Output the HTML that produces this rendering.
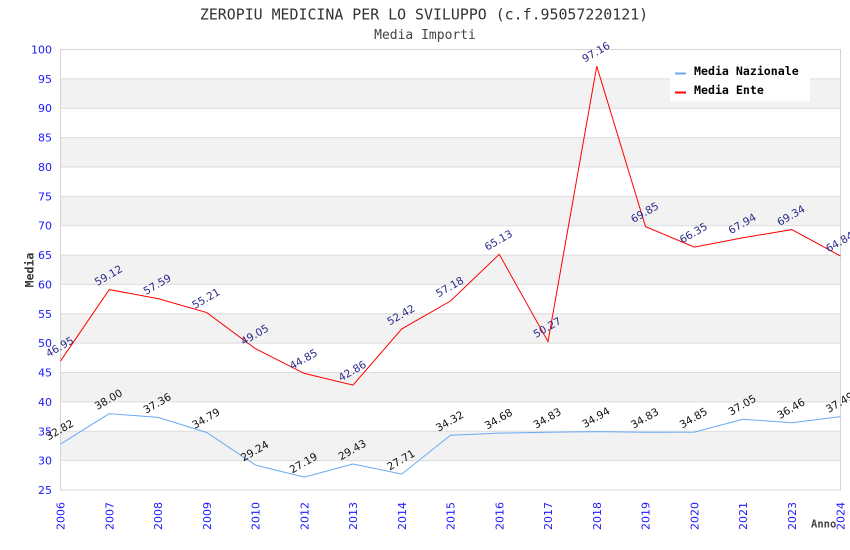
<!DOCTYPE html>
<html><head><meta charset="utf-8"><style>
html,body{margin:0;padding:0;background:#fff;}
svg{display:block;}
.yt{font-family:"DejaVu Sans","Liberation Sans",sans-serif;font-size:11px;fill:#1a1aff;text-anchor:end;}
.xt{font-family:"DejaVu Sans","Liberation Sans",sans-serif;font-size:11px;fill:#1a1aff;text-anchor:end;}
.lr{font-family:"DejaVu Sans","Liberation Sans",sans-serif;font-size:10.5px;fill:#2a2a8a;text-anchor:middle;}
.lb{font-family:"DejaVu Sans","Liberation Sans",sans-serif;font-size:10.5px;fill:#111;text-anchor:middle;}
</style></head><body>
<svg width="850" height="550" viewBox="0 0 850 550" xmlns="http://www.w3.org/2000/svg">
<rect x="0" y="0" width="850" height="550" fill="#fff"/>
<g fill="#f2f2f2">
<rect x="60.5" y="78.87" width="780" height="29.36"/>
<rect x="60.5" y="137.6" width="780" height="29.37"/>
<rect x="60.5" y="196.33" width="780" height="29.37"/>
<rect x="60.5" y="255.07" width="780" height="29.36"/>
<rect x="60.5" y="313.8" width="780" height="29.37"/>
<rect x="60.5" y="372.53" width="780" height="29.37"/>
<rect x="60.5" y="431.27" width="780" height="29.36"/>
</g>
<g stroke="#dcdcdc" stroke-width="1">
<line x1="60.5" x2="840.5" y1="78.87" y2="78.87"/>
<line x1="60.5" x2="840.5" y1="108.23" y2="108.23"/>
<line x1="60.5" x2="840.5" y1="137.6" y2="137.6"/>
<line x1="60.5" x2="840.5" y1="166.97" y2="166.97"/>
<line x1="60.5" x2="840.5" y1="196.33" y2="196.33"/>
<line x1="60.5" x2="840.5" y1="225.7" y2="225.7"/>
<line x1="60.5" x2="840.5" y1="255.07" y2="255.07"/>
<line x1="60.5" x2="840.5" y1="284.43" y2="284.43"/>
<line x1="60.5" x2="840.5" y1="313.8" y2="313.8"/>
<line x1="60.5" x2="840.5" y1="343.17" y2="343.17"/>
<line x1="60.5" x2="840.5" y1="372.53" y2="372.53"/>
<line x1="60.5" x2="840.5" y1="401.9" y2="401.9"/>
<line x1="60.5" x2="840.5" y1="431.27" y2="431.27"/>
<line x1="60.5" x2="840.5" y1="460.63" y2="460.63"/>
</g>
<rect x="60.5" y="49.5" width="780" height="440.5" fill="none" stroke="#d4d4d4" stroke-width="1"/>
<g class="yt">
<text x="52" y="53.5">100</text>
<text x="52" y="82.9">95</text>
<text x="52" y="112.2">90</text>
<text x="52" y="141.6">85</text>
<text x="52" y="171">80</text>
<text x="52" y="200.3">75</text>
<text x="52" y="229.7">70</text>
<text x="52" y="259.1">65</text>
<text x="52" y="288.4">60</text>
<text x="52" y="317.8">55</text>
<text x="52" y="347.2">50</text>
<text x="52" y="376.5">45</text>
<text x="52" y="405.9">40</text>
<text x="52" y="435.3">35</text>
<text x="52" y="464.6">30</text>
<text x="52" y="494">25</text>
</g>
<g class="xt">
<text transform="translate(64.5,502) rotate(-90)">2006</text>
<text transform="translate(113.25,502) rotate(-90)">2007</text>
<text transform="translate(162,502) rotate(-90)">2008</text>
<text transform="translate(210.75,502) rotate(-90)">2009</text>
<text transform="translate(259.5,502) rotate(-90)">2010</text>
<text transform="translate(308.25,502) rotate(-90)">2012</text>
<text transform="translate(357,502) rotate(-90)">2013</text>
<text transform="translate(405.75,502) rotate(-90)">2014</text>
<text transform="translate(454.5,502) rotate(-90)">2015</text>
<text transform="translate(503.25,502) rotate(-90)">2016</text>
<text transform="translate(552,502) rotate(-90)">2017</text>
<text transform="translate(600.75,502) rotate(-90)">2018</text>
<text transform="translate(649.5,502) rotate(-90)">2019</text>
<text transform="translate(698.25,502) rotate(-90)">2020</text>
<text transform="translate(747,502) rotate(-90)">2021</text>
<text transform="translate(795.75,502) rotate(-90)">2023</text>
<text transform="translate(844.5,502) rotate(-90)">2024</text>
</g>
<polyline fill="none" stroke="#6aaaf5" stroke-width="1" points="60.5,444.07 109.25,413.65 158,417.41 206.75,432.5 255.5,465.1 304.25,477.14 353,463.98 401.75,474.08 450.5,435.26 499.25,433.15 548,432.27 596.75,431.62 645.5,432.27 694.25,432.15 743,419.23 791.75,422.69 840.5,416.64"/>
<polyline fill="none" stroke="#ff0000" stroke-width="1" points="60.5,361.08 109.25,289.6 158,298.59 206.75,312.57 255.5,348.75 304.25,373.41 353,385.1 401.75,328.95 450.5,301 499.25,254.3 548,341.58 596.75,66.18 645.5,226.58 694.25,247.14 743,237.8 791.75,229.58 840.5,256.01"/>
<g class="lr">
<text transform="translate(61.5,350) rotate(-30)">46.95</text>
<text transform="translate(110.25,278.6) rotate(-30)">59.12</text>
<text transform="translate(159,287.6) rotate(-30)">57.59</text>
<text transform="translate(207.75,301.6) rotate(-30)">55.21</text>
<text transform="translate(256.5,337.8) rotate(-30)">49.05</text>
<text transform="translate(305.25,362.4) rotate(-30)">44.85</text>
<text transform="translate(354,374.1) rotate(-30)">42.86</text>
<text transform="translate(402.75,318) rotate(-30)">52.42</text>
<text transform="translate(451.5,290) rotate(-30)">57.18</text>
<text transform="translate(500.25,243.3) rotate(-30)">65.13</text>
<text transform="translate(549,330.6) rotate(-30)">50.27</text>
<text transform="translate(597.75,55.2) rotate(-30)">97.16</text>
<text transform="translate(646.5,215.6) rotate(-30)">69.85</text>
<text transform="translate(695.25,236.1) rotate(-30)">66.35</text>
<text transform="translate(744,226.8) rotate(-30)">67.94</text>
<text transform="translate(792.75,218.6) rotate(-30)">69.34</text>
<text transform="translate(841.5,245) rotate(-30)">64.84</text>
</g>
<g class="lb">
<text transform="translate(61.5,433) rotate(-30)">32.82</text>
<text transform="translate(110.25,402.6) rotate(-30)">38.00</text>
<text transform="translate(159,406.4) rotate(-30)">37.36</text>
<text transform="translate(207.75,421.5) rotate(-30)">34.79</text>
<text transform="translate(256.5,454.1) rotate(-30)">29.24</text>
<text transform="translate(305.25,466.1) rotate(-30)">27.19</text>
<text transform="translate(354,453) rotate(-30)">29.43</text>
<text transform="translate(402.75,463.1) rotate(-30)">27.71</text>
<text transform="translate(451.5,424.3) rotate(-30)">34.32</text>
<text transform="translate(500.25,422.1) rotate(-30)">34.68</text>
<text transform="translate(549,421.3) rotate(-30)">34.83</text>
<text transform="translate(597.75,420.6) rotate(-30)">34.94</text>
<text transform="translate(646.5,421.3) rotate(-30)">34.83</text>
<text transform="translate(695.25,421.1) rotate(-30)">34.85</text>
<text transform="translate(744,408.2) rotate(-30)">37.05</text>
<text transform="translate(792.75,411.7) rotate(-30)">36.46</text>
<text transform="translate(841.5,405.6) rotate(-30)">37.49</text>
</g>
<rect x="670" y="58" width="140" height="43.5" fill="#fff"/>
<rect x="675" y="72.5" width="11" height="2" fill="#6aaaf5"/>
<rect x="675" y="91.5" width="11" height="2" fill="#ff0000"/>
<g font-family="'DejaVu Sans Mono','Liberation Mono',monospace" font-size="11.6" font-weight="bold" fill="#000">
<text x="694" y="75">Media Nazionale</text>
<text x="694" y="94">Media Ente</text>
</g>
<text x="424" y="19.5" text-anchor="middle" font-family="'DejaVu Sans Mono','Liberation Mono',monospace" font-size="14.9" fill="#333">ZEROPIU MEDICINA PER LO SVILUPPO (c.f.95057220121)</text>
<text x="425" y="39" text-anchor="middle" font-family="'DejaVu Sans Mono','Liberation Mono',monospace" font-size="13" fill="#444">Media Importi</text>
<text transform="translate(33.5,270) rotate(-90)" text-anchor="middle" font-family="'DejaVu Sans Mono','Liberation Mono',monospace" font-size="11.5" font-weight="bold" fill="#333">Media</text>
<text x="811" y="527.5" font-family="'DejaVu Sans Mono','Liberation Mono',monospace" font-size="10.5" font-weight="bold" fill="#444">Anno</text>
</svg>
</body></html>
